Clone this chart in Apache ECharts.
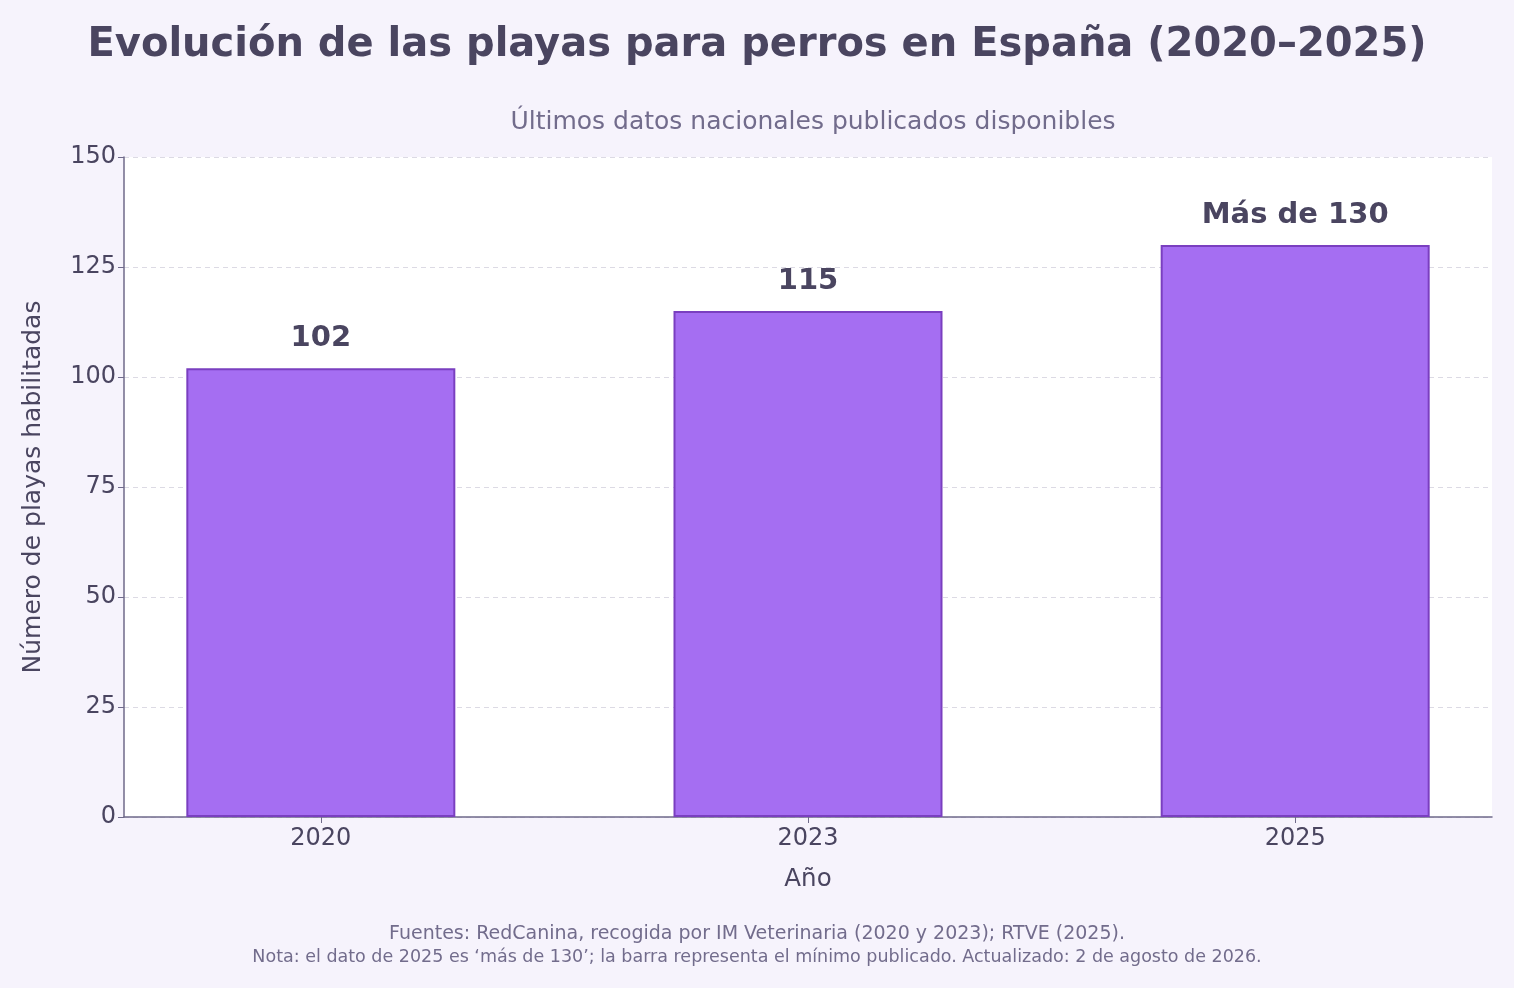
<!DOCTYPE html>
<html>
<head>
<meta charset="utf-8">
<script src="https://cdn.jsdelivr.net/npm/echarts@6/dist/echarts.min.js"></script>
<style>
  html, body { margin: 0; padding: 0; background: #f6f3fc; }
  #chart { width: 1514px; height: 988px; }
</style>
</head>
<body>
<div id="chart"></div>
<script>
// datos
const years = ['2020', '2023', '2025'];
const playas = [102, 115, 130];
const etiquetas = ['102', '115', 'Más de 130'];
const yTicks = [0, 25, 50, 75, 100, 125, 150];

const textDark = '#4a4560';
const textMuted = '#726c8c';
const font = 'DejaVu Sans';

let chart = echarts.init(document.getElementById('chart'));

// posiciones de las categorías 0,1,2 con margen lateral como en el original
let xIdx = years.map((y, i) => i);
let barData = playas.map((v, i) => [xIdx[i], v]);

let option = {
    backgroundColor: '#f6f3fc',
    textStyle: {fontFamily: font},
    title: [
        {
            text: 'Evolución de las playas para perros en España (2020–2025)',
            left: 'center',
            top: 21,
            textStyle: {fontSize: 40, fontWeight: 'bold', color: textDark, fontFamily: font}
        },
        {
            text: 'Últimos datos nacionales publicados disponibles',
            left: 808,
            textAlign: 'center',
            top: 105,
            textStyle: {fontSize: 25, fontWeight: 'normal', color: textMuted, fontFamily: font}
        },
        {
            text: 'Fuentes: RedCanina, recogida por IM Veterinaria (2020 y 2023); RTVE (2025).',
            left: 'center',
            top: 920,
            textStyle: {fontSize: 19, fontWeight: 'normal', color: textMuted, fontFamily: font}
        },
        {
            text: 'Nota: el dato de 2025 es ‘más de 130’; la barra representa el mínimo publicado. Actualizado: 2 de agosto de 2026.',
            left: 'center',
            top: 943,
            textStyle: {fontSize: 17.5, fontWeight: 'normal', color: textMuted, fontFamily: font}
        }
    ],
    grid: {
        left: 124,
        right: 22,
        top: 157,
        bottom: 171,
        show: true,
        backgroundColor: '#ffffff',
        borderWidth: 0
    },
    xAxis: {
        type: 'value',
        min: -0.404,
        max: 2.404,
        name: 'Año',
        nameLocation: 'middle',
        nameGap: 50,
        nameTextStyle: {fontSize: 24.5, color: textDark},
        axisLine: {show: true, onZero: false, lineStyle: {color: '#6f6a8a', width: 1.5}},
        axisTick: {show: true, length: 6, customValues: xIdx, lineStyle: {color: '#6f6a8a'}},
        axisLabel: {
            fontSize: 24, color: textDark, margin: 10,
            customValues: xIdx,
            formatter: v => years[Math.round(v)]
        },
        splitLine: {show: false}
    },
    yAxis: {
        type: 'value',
        min: yTicks[0],
        max: yTicks[yTicks.length - 1],
        interval: 25,
        name: 'Número de playas habilitadas',
        nameLocation: 'middle',
        nameGap: 78,
        nameTextStyle: {fontSize: 25, color: textDark},
        axisLine: {show: true, onZero: false, lineStyle: {color: '#6f6a8a', width: 1.5}},
        axisTick: {show: true, length: 6, lineStyle: {color: '#6f6a8a'}},
        axisLabel: {fontSize: 24, color: textDark, margin: 8},
        splitLine: {show: true, lineStyle: {color: '#dcdae4', type: [5, 4], width: 1}}
    },
    series: [{
        type: 'bar',
        data: barData,
        barWidth: 269,
        itemStyle: {color: '#a56ef2', borderColor: '#7a3fc0', borderWidth: 2},
        label: {
            show: true,
            position: 'top',
            distance: 15,
            fontSize: 29,
            fontWeight: 'bold',
            color: textDark,
            formatter: p => etiquetas[p.dataIndex]
        }
    }]
};

chart.setOption(option);
</script>
</body>
</html>
